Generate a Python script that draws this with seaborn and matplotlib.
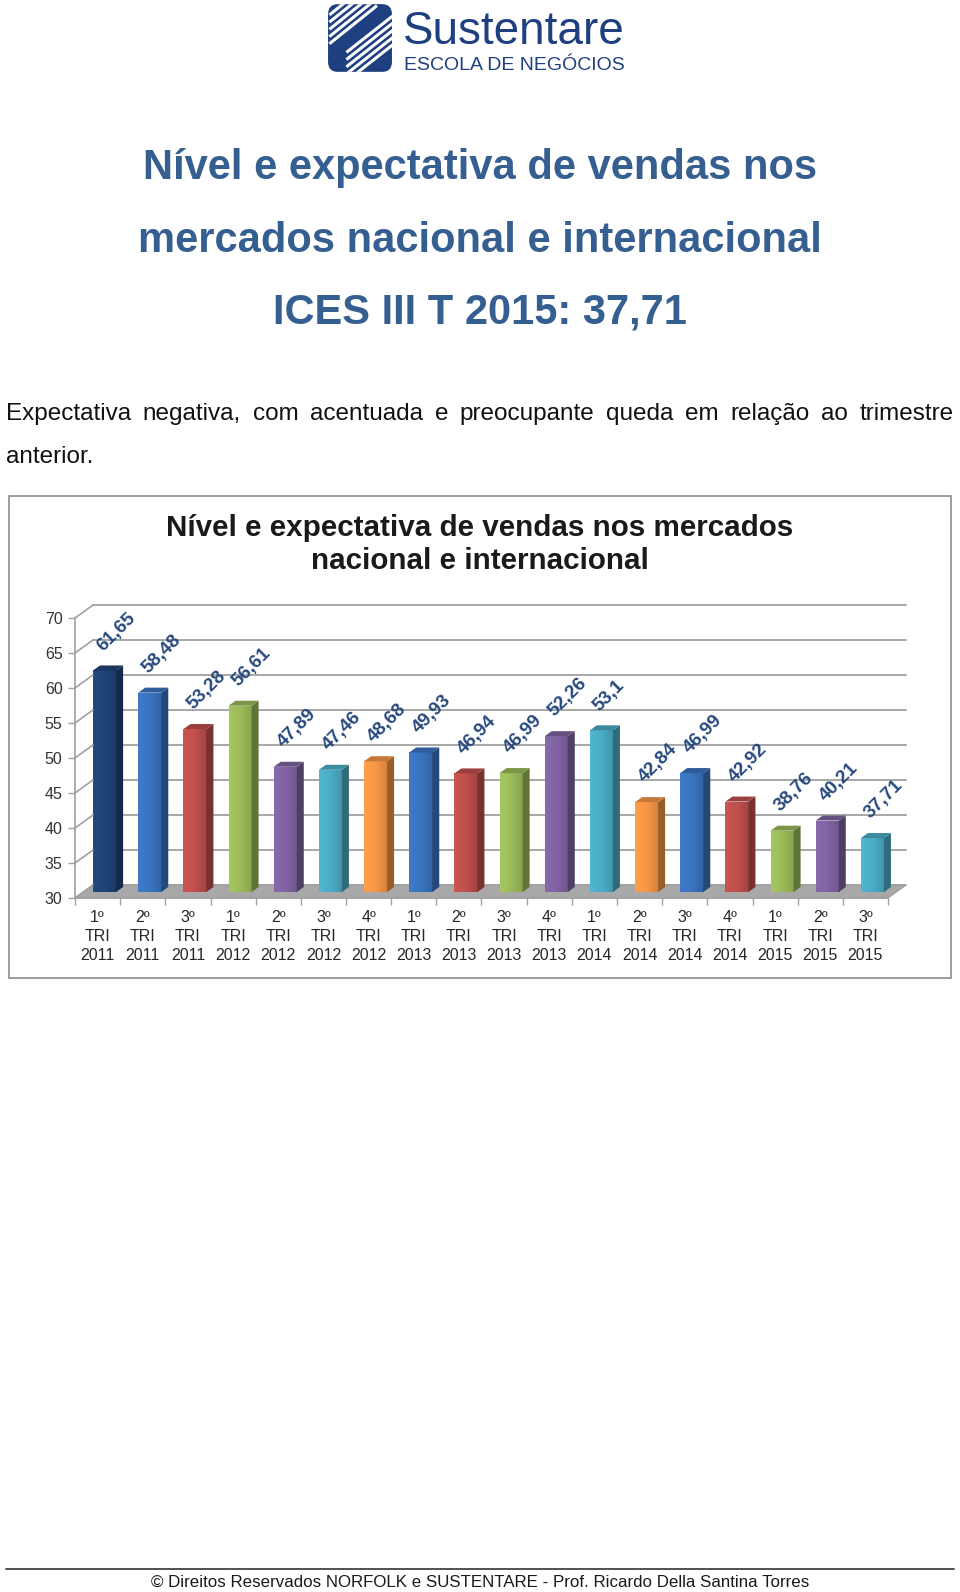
import matplotlib
matplotlib.use("Agg")
import matplotlib.pyplot as plt
import numpy as np
import pandas as pd
import seaborn as sns
from matplotlib.colors import LinearSegmentedColormap, to_rgb
from matplotlib.patches import FancyBboxPatch, Polygon, Rectangle
from matplotlib.transforms import Bbox, IdentityTransform, ScaledTranslation, TransformedBbox

W, H = 960, 1592

# data
quarters = ["1º", "2º", "3º", "1º", "2º", "3º", "4º", "1º", "2º", "3º",
            "4º", "1º", "2º", "3º", "4º", "1º", "2º", "3º"]
years = ["2011", "2011", "2011", "2012", "2012", "2012", "2012", "2013", "2013", "2013",
         "2013", "2014", "2014", "2014", "2014", "2015", "2015", "2015"]
values = [61.65, 58.48, 53.28, 56.61, 47.89, 47.46, 48.68, 49.93, 46.94, 46.99,
          52.26, 53.1, 42.84, 46.99, 42.92, 38.76, 40.21, 37.71]
bar_colors = ["#1f4478", "#3a74c0", "#c0504d", "#9bbb59", "#8064a2", "#4bacc6",
              "#f79646", "#3a74c0", "#c0504d", "#9bbb59", "#8064a2", "#4bacc6",
              "#f79646", "#3a74c0", "#c0504d", "#9bbb59", "#8064a2", "#4bacc6"]
y_ticks = [30, 35, 40, 45, 50, 55, 60, 65, 70]

labels = [f"{q}\nTRI\n{y}" for q, y in zip(quarters, years)]
df = pd.DataFrame({"periodo": labels, "valor": values})

sns.set_style("ticks")
plt.rcParams["font.family"] = ["Liberation Sans", "DejaVu Sans"]


def fx(x):
    return x / W


def fy(y):
    return 1 - y / H


fig = plt.figure(figsize=(W / 100, H / 100), dpi=100)
fig.patch.set_facecolor("white")

# ---- logo
lax = fig.add_axes([fx(326), fy(74), 68 / W, 72 / H])
lax.set_xlim(0, 1)
lax.set_ylim(0, 1)
lax.axis("off")
shield = FancyBboxPatch((0.03, 0.03), 0.94, 0.94, boxstyle="round,pad=0,rounding_size=0.14",
                        fc="#1e3f80", ec="none")
lax.add_patch(shield)
for k in range(5):
    ln, = lax.plot([0.05, 0.75], [0.42 + k * 0.1, 0.95 + k * 0.1], color="white", lw=2.2,
                   solid_capstyle="butt")
    ln.set_clip_path(shield)
    ln2, = lax.plot([0.3, 1.0], [-0.1 + k * 0.1, 0.42 + k * 0.1], color="white", lw=2.2,
                    solid_capstyle="butt")
    ln2.set_clip_path(shield)
fig.text(fx(403), fy(44), "Sustentare", fontsize=33, color="#1e3f80",
         ha="left", va="baseline")
fig.text(fx(404), fy(65), "ESCOLA DE NEGÓCIOS", fontsize=14, color="#1e3f80",
         ha="left", va="center")

# ---- page titles
title_col = "#365f91"
fig.text(fx(480), fy(168), "Nível e expectativa de vendas nos", fontsize=30,
         fontweight="bold", color=title_col, ha="center", va="center")
fig.text(fx(480), fy(241), "mercados nacional e internacional", fontsize=30,
         fontweight="bold", color=title_col, ha="center", va="center")
fig.text(fx(480), fy(312), "ICES III T 2015: 37,71", fontsize=30,
         fontweight="bold", color=title_col, ha="center", va="center")

# ---- justified paragraph
line1 = "Expectativa negativa, com acentuada e preocupante queda em relação ao trimestre"
words = line1.split()
renderer = fig.canvas.get_renderer()
word_texts = [fig.text(0, fy(414), w, fontsize=17.5, color="#111111", ha="left", va="center")
              for w in words]
widths = [t.get_window_extent(renderer).width for t in word_texts]
gap = (948 - sum(widths)) / (len(words) - 1)
xpos = 6
for t, w in zip(word_texts, widths):
    t.set_x(fx(xpos))
    xpos += w + gap
fig.text(fx(6), fy(457), "anterior.", fontsize=17.5, color="#111111", ha="left", va="center")

# ---- chart frame and title
fig.add_artist(Rectangle((fx(9), fy(978)), 942 / W, 482 / H, transform=fig.transFigure,
                         fill=False, ec="#8c8c8c", lw=1.2))
fig.text(fx(480), fy(528), "Nível e expectativa de vendas nos mercados", fontsize=21.3,
         fontweight="bold", color="#1a1a1a", ha="center", va="center")
fig.text(fx(480), fy(561), "nacional e internacional", fontsize=21.3,
         fontweight="bold", color="#1a1a1a", ha="center", va="center")

# ---- bar chart
ax = fig.add_axes([fx(75), fy(898), 813 / W, 280 / H])
ax.patch.set_alpha(0)
sns.barplot(data=df, x="periodo", y="valor", hue="periodo", palette=bar_colors,
            legend=False, width=0.51, saturation=1, ax=ax, zorder=3)
ax.set_xlim(-0.5, len(values) - 0.5)
ax.set_ylim(y_ticks[0], y_ticks[-1])
ax.set_yticks(y_ticks)
ax.set_xlabel("")
ax.set_ylabel("")
grey = "#a0a0a0"
for side in ["top", "right"]:
    ax.spines[side].set_visible(False)
for side in ["left", "bottom"]:
    ax.spines[side].set_color(grey)
    ax.spines[side].set_linewidth(1.2)
ax.set_xticks(np.arange(-0.5, len(values), 1), minor=True)
ax.tick_params(axis="x", which="major", length=0, pad=9)
ax.tick_params(axis="x", which="minor", length=5, color=grey, width=1)
ax.tick_params(axis="y", length=5, color=grey, width=1, pad=4)
for lab in ax.get_xticklabels():
    lab.set_fontsize(11.5)
    lab.set_color("#262626")
    lab.set_linespacing(1.32)
for lab in ax.get_yticklabels():
    lab.set_fontsize(11.5)
    lab.set_color("#333333")

back = ScaledTranslation(18 / 100, 13 / 100, fig.dpi_scale_trans)
front = ScaledTranslation(7 / 100, 6 / 100, fig.dpi_scale_trans)
ytrans = ax.get_yaxis_transform()

# floor
floor_pts = [ax.transAxes.transform(p) for p in [(0, 0), (1, 0)]]
floor_pts += [pt + np.array([18, 13]) for pt in floor_pts[::-1]]
fig.add_artist(Polygon(floor_pts, closed=True, transform=IdentityTransform(),
                       fc="#a8a8a8", ec="#9a9a9a", lw=0.8, zorder=-1))

# back-wall gridlines and side-wall diagonals
for t in y_ticks:
    ax.plot([0, 1], [t, t], transform=ytrans + back, color=grey, lw=1.3,
            clip_on=False, zorder=1)
    p0 = ytrans.transform((0, t))
    fig.add_artist(plt.Line2D([p0[0], p0[0] + 18], [p0[1], p0[1] + 13],
                              transform=IdentityTransform(), color=grey, lw=1.2))

# 3D bars: shift front faces, shade them, add side and top faces
dep = np.array([7, 5])
fshift = np.array([7, 6])
clip = TransformedBbox(Bbox.unit(), ax.transAxes + front)
bars = sorted([p for p in ax.patches if isinstance(p, Rectangle)], key=lambda p: p.get_x())
base = ax.get_ylim()[0]
for bar, col in zip(bars, bar_colors):
    bar.set_transform(ax.transData + front)
    bar.set_clip_box(clip)
    bar.set_edgecolor("none")
    x0 = bar.get_x()
    x1 = x0 + bar.get_width()
    top = bar.get_height()
    rgb = np.array(to_rgb(col))
    shade = LinearSegmentedColormap.from_list(
        "s", [np.clip(rgb * 1.06, 0, 1), rgb, rgb * 0.86])
    img = ax.imshow(np.linspace(0, 1, 32).reshape(1, -1), cmap=shade, aspect="auto",
                    extent=(x0, x1, base, top), zorder=3.5, interpolation="bilinear")
    img.set_transform(ax.transData + front)
    img.set_clip_path(bar)
    a = ax.transData.transform((x1, base)) + fshift
    b = ax.transData.transform((x1, top)) + fshift
    c = ax.transData.transform((x0, top)) + fshift
    fig.add_artist(Polygon([a, b, b + dep, a + dep], closed=True, transform=IdentityTransform(),
                           fc=rgb * 0.62, ec="none", zorder=3))
    fig.add_artist(Polygon([c, b, b + dep, c + dep], closed=True, transform=IdentityTransform(),
                           fc=rgb * 0.8, ec="none", zorder=3))
ax.set_xlim(-0.5, len(values) - 0.5)
ax.set_ylim(y_ticks[0], y_ticks[-1])

# value labels
for i, v in enumerate(values):
    ax.annotate(f"{v:g}".replace(".", ","), xy=(i, v), xytext=(8, 22),
                textcoords="offset pixels", rotation=45, rotation_mode="anchor",
                ha="left", va="bottom", fontsize=13.5, fontweight="bold",
                color="#27497e", annotation_clip=False, zorder=5)

# ---- footer
fig.add_artist(plt.Line2D([fx(6), fx(954)], [fy(1569), fy(1569)], transform=fig.transFigure,
                          color="#333333", lw=1.2))
fig.text(fx(480), fy(1582), "© Direitos Reservados NORFOLK e SUSTENTARE - Prof. Ricardo Della Santina Torres",
         fontsize=12.2, color="#1a1a1a", ha="center", va="center")

fig.savefig("out.png", dpi=100, facecolor="white")
plt.close(fig)
